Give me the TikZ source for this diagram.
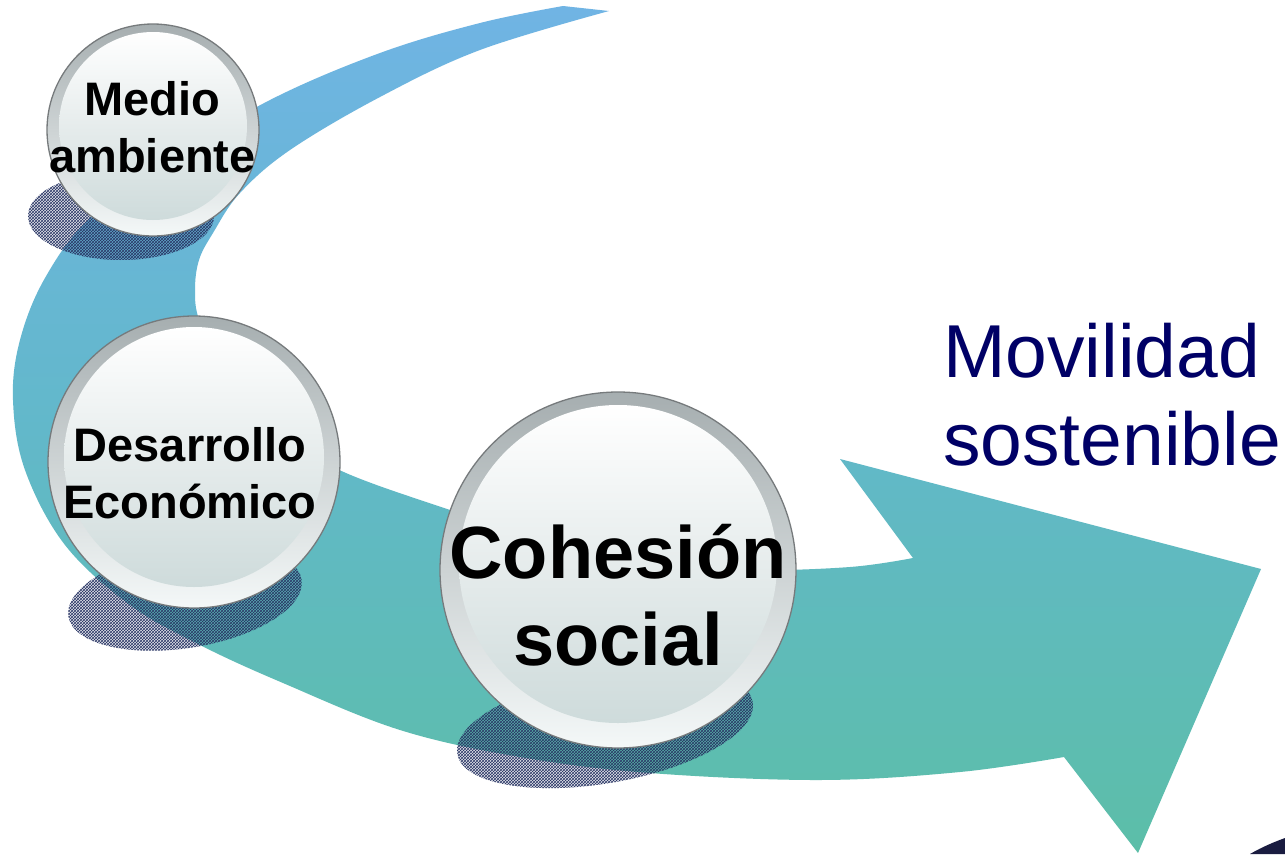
\documentclass[tikz,border=0pt]{standalone}
\usepackage{fontspec}
\setmainfont{Liberation Sans}
\usetikzlibrary{patterns}
\definecolor{arrowtop}{RGB}{112,180,228}
\definecolor{arrowmid}{RGB}{98,184,202}
\definecolor{arrowbot}{RGB}{92,190,168}
\definecolor{ringtop}{RGB}{166,174,176}
\definecolor{ringbot}{RGB}{244,248,248}
\definecolor{ballmid}{RGB}{230,236,236}
\definecolor{ballbot}{RGB}{206,219,219}
\definecolor{rimline}{RGB}{118,122,124}
\definecolor{shadowink}{RGB}{40,52,100}
\definecolor{navytext}{RGB}{0,0,102}
\definecolor{cornerdark}{RGB}{26,28,64}
\begin{document}
\begin{tikzpicture}[x=1pt,y=-1pt,
  ballouter/.style={circle, draw=rimline, line width=1.3pt, top color=ringtop, bottom color=ringbot, inner sep=0pt},
  ballinner/.style={circle, top color=white, bottom color=ballbot, middle color=ballmid, inner sep=0pt},
  balltext/.style={align=center, inner sep=0pt, text=black},
  shadowhatch/.style={pattern=crosshatch, pattern color=shadowink},
  shadowtint/.style={fill=shadowink, fill opacity=0.12}
]
\useasboundingbox[fill=white] (0,0) rectangle (1285,854);

% big curved arrow
\shade[top color=arrowtop, bottom color=arrowbot, middle color=arrowmid]
  (609,11) -- (563,6)
  -- plot[smooth, tension=0.6] coordinates {(563,6) (480,23) (380,53) (270,100) (170,160) (90,218) (45,278) (20,340) (13,400) (25,470) (65,545) (130,605) (200,645) (283,683) (400,730) (520,757) (650,773) (820,780) (960,772) (1064,757)}
  -- (1138,853) -- (1261,569) -- (840,459) -- (913,558)
  -- plot[smooth, tension=0.6] coordinates {(913,558) (850,567) (750,570) (650,563) (560,545) (450,510) (333,467) (265,418) (220,370) (199,320) (195,290) (199,260) (213,233) (240,193) (290,150) (380,97) (480,50) (609,11)}
  -- cycle;

% shadows
\fill[shadowtint] (121,216) ellipse [x radius=93pt, y radius=44pt];
\fill[shadowhatch] (121,216) ellipse [x radius=93pt, y radius=44pt];
\fill[shadowtint, rotate around={9:(185,598)}] (185,598) ellipse [x radius=118pt, y radius=50pt];
\fill[shadowhatch, rotate around={9:(185,598)}] (185,598) ellipse [x radius=118pt, y radius=50pt];
\fill[shadowtint, rotate around={10:(605,728)}] (605,728) ellipse [x radius=150pt, y radius=55pt];
\fill[shadowhatch, rotate around={10:(605,728)}] (605,728) ellipse [x radius=150pt, y radius=55pt];

% balls
\node[ballouter, minimum size=212pt] (medioring) at (153,130) {};
\node[ballinner, minimum size=188pt] (medioball) at (153,126) {};
\node[balltext, font=\fontsize{47}{57}\selectfont\bfseries] (medio) at (152.5,127) {Medio\\ambiente};

\node[ballouter, minimum size=292pt] (desring) at (194,462) {};
\node[ballinner, minimum size=260pt] (desball) at (194,457) {};
\node[balltext, font=\fontsize{47}{57}\selectfont\bfseries] (des) at (190,473) {Desarrollo\\Económico};

\node[ballouter, minimum size=356pt] (cohring) at (618,570) {};
\node[ballinner, minimum size=318pt] (cohball) at (618,564) {};
\node[balltext, font=\fontsize{74}{87}\selectfont\bfseries] (coh) at (618,595) {Cohesión\\social};

% title
\node[align=left, inner sep=0pt, anchor=west, text=navytext, font=\fontsize{75}{88}\selectfont] (title) at (943,395) {Movilidad\\sostenible};

% dark corner fragment
\fill[cornerdark] (1250,854) .. controls (1262,847) and (1274,842) .. (1285,838) -- (1285,854) -- cycle;
\end{tikzpicture}
\end{document}
